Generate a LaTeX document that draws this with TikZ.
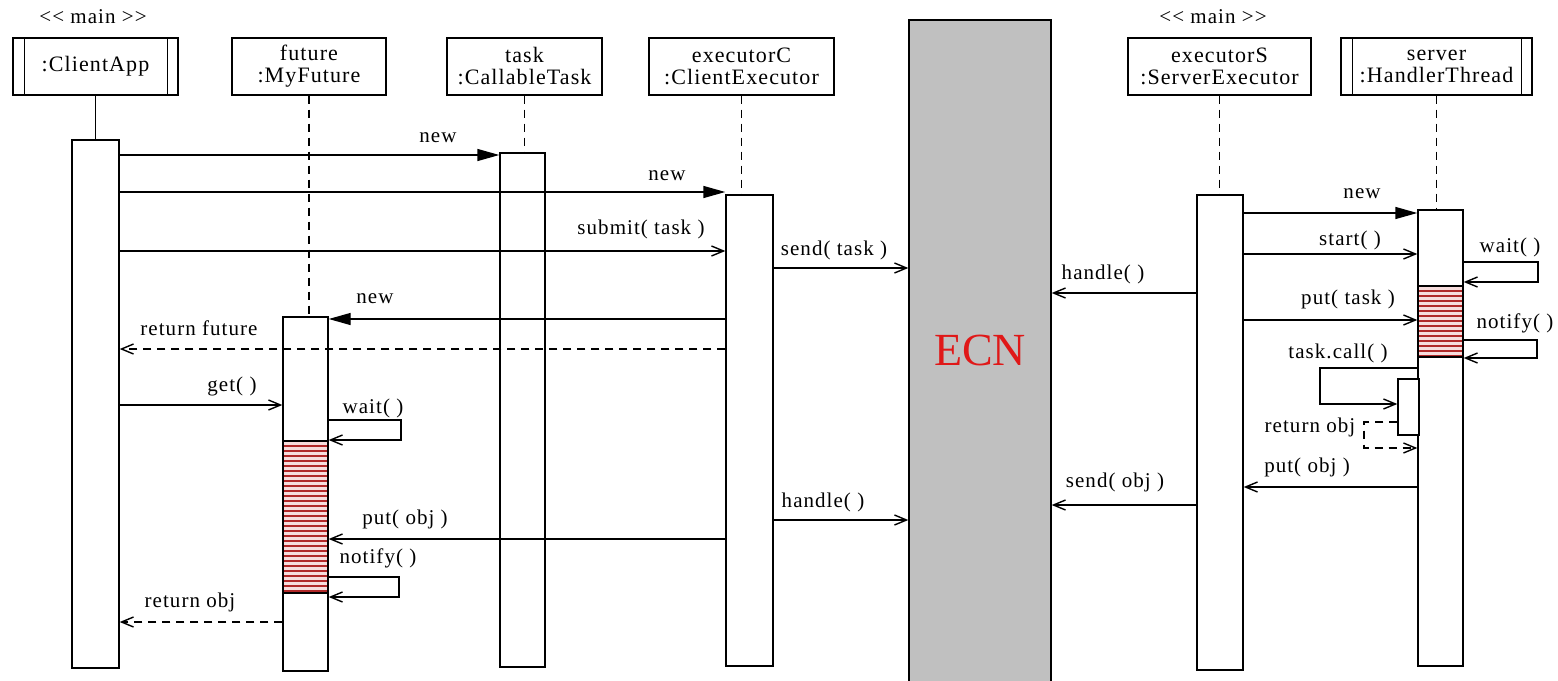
\documentclass[tikz,border=0pt]{standalone}
\usepackage{fontspec}
\setmainfont{Liberation Serif}
\newfontfamily\lblfont[LetterSpace=5]{Liberation Serif}
\usetikzlibrary{arrows.meta,fit}
\definecolor{ecngray}{HTML}{C0C0C0}
\definecolor{hatchred}{HTML}{B02828}
\definecolor{hatchbg}{HTML}{F6DCDC}
\definecolor{ecnred}{HTML}{E01818}
\begin{document}
\begin{tikzpicture}[x=0.5pt,y=-0.5pt, line width=0.7pt,
  hdr/.style={draw, fill=white, inner sep=0pt},
  htext/.style={font=\lblfont\fontsize{11}{11}\selectfont, align=center, inner sep=0pt},
  act/.style={draw, fill=white, inner sep=0pt},
  lbl/.style={font=\lblfont\fontsize{10.5}{12}\selectfont, inner sep=0pt},
  life/.style={dash pattern=on 4pt off 3pt},
  sync/.style={-{Triangle[length=11pt,width=6pt]}},
  async/.style={-{Straight Barb[length=6pt,width=5pt]}},
  ret/.style={async, dash pattern=on 4pt off 3pt},
  hatchline/.style={hatchred, line width=0.6pt}]
\useasboundingbox (0,0) rectangle (1558,680);
\clip (0,0) rectangle (1558,680);

% ECN
\node[draw, fill=ecngray, inner sep=0pt, fit={(909,20) (1051,700)}] (ecn) {};
\node[text=ecnred, font=\fontsize{23}{26}\selectfont, inner sep=0pt] (ecnlbl) at (980,350) {ECN};

% headers
\node[lbl] (main1) at (93,17) {<{}< main >{}>};
\node[lbl] (main2) at (1213,17) {<{}< main >{}>};
\node[hdr, fit={(13,38) (178,95)}] (caH) {};
\draw ([xshift=6pt]caH.north west) -- ([xshift=6pt]caH.south west);
\draw ([xshift=-5.5pt]caH.north east) -- ([xshift=-5.5pt]caH.south east);
\node[htext] at (caH) {:ClientApp};
\node[hdr, fit={(232,38) (386,95)}] (mfH) {};
\node[htext] at (mfH) {future\\:MyFuture};
\node[hdr, fit={(447,38) (602,95)}] (tkH) {};
\node[htext] at (tkH) {task\\:CallableTask};
\node[hdr, fit={(649,38) (834,95)}] (ceH) {};
\node[htext] at (ceH) {executorC\\:ClientExecutor};
\node[hdr, fit={(1128,38) (1311,95)}] (seH) {};
\node[htext] at (seH) {executorS\\:ServerExecutor};
\node[hdr, fit={(1341,38) (1532,95)}] (srvH) {};
\draw ([xshift=6pt]srvH.north west) -- ([xshift=6pt]srvH.south west);
\draw ([xshift=-5.5pt]srvH.north east) -- ([xshift=-5.5pt]srvH.south east);
\node[htext] at (srvH) {server\\:HandlerThread};

% activations
\node[act, fit={(72,140) (119,668)}] (caA) {};
\node[act, fit={(283,317) (328,671)}] (mfA) {};
\node[act, fit={(500,153) (545,667)}] (tkA) {};
\node[act, fit={(726,195) (773,666)}] (ceA) {};
\node[act, fit={(1197,195) (1243,670)}] (seA) {};
\node[act, fit={(1418,210) (1463,666)}] (srvA) {};

% lifelines
\draw (caH.south) -- (caH.south |- caA.north);
\draw[life] (mfH.south) -- (mfH.south |- mfA.north);
\draw[life] (tkH.south) -- (tkH.south |- tkA.north);
\draw[life] (ceH.south) -- (ceH.south |- ceA.north);
\draw[life] (seH.south) -- (seH.south |- seA.north);
\draw[life] (srvH.south) -- (srvH.south |- srvA.north);

% hatched (waiting) regions
\fill[hatchbg] (283,441) rectangle (328,593);
\foreach \y in {441,446,...,591} \draw[hatchline] (283,\y) -- (328,\y);
\draw (283,441) -- (328,441) (283,593) -- (328,593);
\fill[hatchbg] (1418,286) rectangle (1463,357);
\foreach \y in {286,291,...,356} \draw[hatchline] (1418,\y) -- (1463,\y);
\draw (1418,286) -- (1463,286) (1418,357) -- (1463,357);
\draw (283,317) rectangle (328,671);
\draw (1418,210) rectangle (1463,666);

% nested activation
\node[act, fit={(1398,379) (1419,435)}] (callA) {};

% client-side messages
\draw[sync] (caA.east |- 0,155) -- (tkA.west |- 0,155);
\node[lbl] at (438,138) {new};
\draw[sync] (caA.east |- 0,192) -- (ceA.west |- 0,192);
\node[lbl] at (667,176) {new};
\draw[async] (caA.east |- 0,251) -- (ceA.west |- 0,251);
\node[lbl] at (641,229) {submit( task )};
\draw[async] (ceA.east |- 0,268) -- (ecn.west |- 0,268);
\node[lbl] at (834,250) {send( task )};
\draw[sync] (ceA.west |- 0,319) -- (mfA.east |- 0,319);
\node[lbl] at (375,299) {new};
\draw[ret] (ceA.west |- 0,349) -- (caA.east |- 0,349);
\node[lbl] at (199,328) {return future};
\draw[async] (caA.east |- 0,405) -- (mfA.west |- 0,405);
\node[lbl] at (232,386) {get( )};
\draw[async] (mfA.east |- 0,420) -| (401,440) -- (mfA.east |- 0,440);
\node[lbl] at (373,408) {wait( )};
\draw[async] (ceA.west |- 0,539) -- (mfA.east |- 0,539);
\node[lbl] at (405,519) {put( obj )};
\draw[async] (mfA.east |- 0,577) -| (399,597) -- (mfA.east |- 0,597);
\node[lbl] at (378,558) {notify( )};
\draw[ret] (mfA.west |- 0,622) -- (caA.east |- 0,622);
\node[lbl] at (190,602) {return obj};
\draw[async] (ceA.east |- 0,520) -- (ecn.west |- 0,520);
\node[lbl] at (823,502) {handle( )};

% server-side messages
\draw[sync] (seA.east |- 0,213) -- (srvA.west |- 0,213);
\node[lbl] at (1362,194) {new};
\draw[async] (seA.east |- 0,254) -- (srvA.west |- 0,254);
\node[lbl] at (1350,240) {start( )};
\draw[async] (srvA.east |- 0,262) -| (1538,282) -- (srvA.east |- 0,282);
\node[lbl] at (1510,247) {wait( )};
\draw[async] (seA.west |- 0,293) -- (ecn.east |- 0,293);
\node[lbl] at (1103,274) {handle( )};
\draw[async] (seA.east |- 0,320) -- (srvA.west |- 0,320);
\node[lbl] at (1348,299) {put( task )};
\draw[async] (srvA.east |- 0,340) -| (1537,358) -- (srvA.east |- 0,358);
\node[lbl] at (1515,323) {notify( )};
\draw[async] (srvA.west |- 0,368) -| (1320,404) -- (callA.west |- 0,404);
\node[lbl] at (1338,353) {task.call( )};
\draw[ret] (callA.west |- 0,422) -| (1364,448) -- (srvA.west |- 0,448);
\node[lbl] at (1310,427) {return obj};
\draw[async] (srvA.west |- 0,487) -- (seA.east |- 0,487);
\node[lbl] at (1307,467) {put( obj )};
\draw[async] (seA.west |- 0,505) -- (ecn.east |- 0,505);
\node[lbl] at (1115,482) {send( obj )};
\end{tikzpicture}
\end{document}
